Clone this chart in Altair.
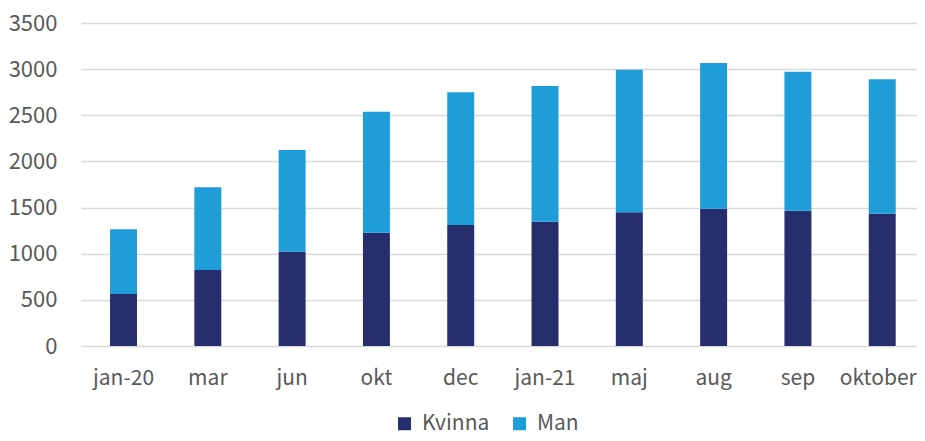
import altair as alt
import pandas as pd

months = ["jan-20", "mar", "jun", "okt", "dec", "jan-21", "maj", "aug", "sep", "oktober"]
kvinna = [563, 824, 1022, 1228, 1311, 1347, 1448, 1488, 1466, 1434]
total = [1264, 1720, 2124, 2539, 2749, 2817, 2994, 3067, 2973, 2890]
man = [t - k for t, k in zip(total, kvinna)]

series = ["Kvinna", "Man"]
colors = ["#262E6E", "#1E9DD9"]

rows = []
for m, k, mn in zip(months, kvinna, man):
    rows.append({"month": m, "kon": "Kvinna", "value": k, "ord": 0})
    rows.append({"month": m, "kon": "Man", "value": mn, "ord": 1})
df = pd.DataFrame(rows)

FONT = "Noto Sans CJK SC"
GRAY = "#595959"

chart = alt.Chart(df).mark_bar().encode(
    x=alt.X("month:N", sort=months,
            scale=alt.Scale(paddingInner=0.68, paddingOuter=0.2985, align=0.577),
            axis=alt.Axis(title=None, labelAngle=0, ticks=False, domain=False,
                          grid=False, labelFontSize=21, labelColor=GRAY,
                          labelFont=FONT, labelPadding=21,
                          labelOffset=alt.ExprRef(expr="datum.value == 'oktober' ? -4 : 0"))),
    y=alt.Y("value:Q", stack="zero",
            scale=alt.Scale(domain=[0, 3500], nice=False),
            axis=alt.Axis(title=None, values=[0, 500, 1000, 1500, 2000, 2500, 3000, 3500],
                          format="d",
                          ticks=False, domain=False, grid=True, gridColor="#D9D9D9",
                          gridWidth=1.5, labelFontSize=22, labelColor=GRAY,
                          labelFont=FONT, labelPadding=24)),
    color=alt.Color("kon:N", sort=series,
                    scale=alt.Scale(domain=series, range=colors),
                    legend=alt.Legend(title=None, orient="none", direction="horizontal",
                                      legendX=313, legendY=390,
                                      symbolType="square", symbolSize=169,
                                      symbolStrokeWidth=0,
                                      labelFontSize=21, labelColor=GRAY, labelFont=FONT,
                                      labelOffset=7, columnPadding=19)),
    order=alt.Order("ord:Q"),
).properties(
    width=836, height=323,
    autosize=alt.AutoSizeParams(type="none"),
    padding={"left": 73, "top": 15, "right": 0, "bottom": 86},
).configure_view(stroke=None)

chart.save("out.html", embed_options={"renderer": "svg", "actions": False})
